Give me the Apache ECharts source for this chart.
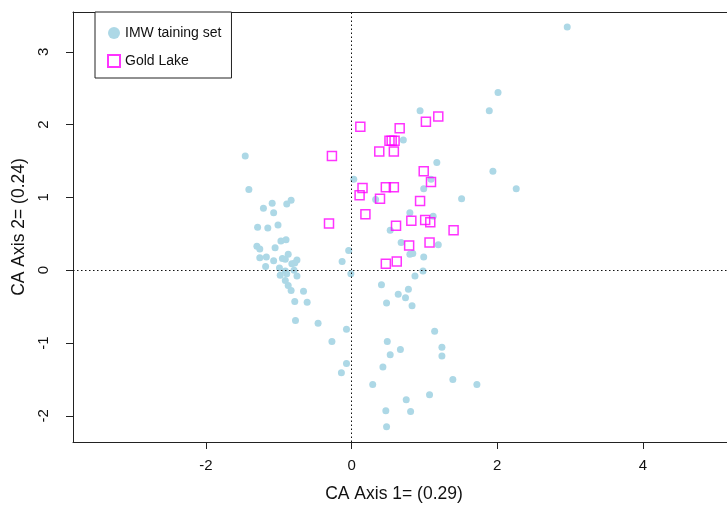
<!DOCTYPE html>
<html>
<head>
<meta charset="utf-8">
<script src="https://cdn.jsdelivr.net/npm/echarts@6/dist/echarts.min.js"></script>
<style>
  html, body { margin: 0; padding: 0; background: #fff; }
  #chart { width: 727px; height: 506px; }
</style>
</head>
<body>
<div id="chart"></div>
<script>
// CA site scores: IMW training set
const imwX = [2.96, 2.01, 1.89, 1.94, 2.26, 1.51, 0.94, 0.71, 1.17, 0.03, 1.09, 0.99, 0.33,
  0.80, 1.12, 0.53, 0.68, 1.19, 0.80, 0.84, 0.99, -0.04, -0.13, -0.01, 0.87, 0.98,
  0.41, 0.64, 0.78, 0.74, 0.48, 0.83, -0.07, -0.27, 1.14, 0.49, 0.67, 0.53, 1.24, 1.24,
  -0.07, -0.14, 0.43, 0.29, 1.39, 1.72, 1.07, 0.75, 0.47, 0.81, 0.48, -0.46,
  -1.46, -1.41, -1.09, -0.83, -0.89, -1.21, -1.07, -1.29, -1.15, -1.01, -0.97, -0.90,
  -1.30, -1.26, -1.05, -1.26, -1.17, -1.07, -0.95, -0.87, -0.91, -0.82, -0.75, -0.78,
  -1.18, -0.99, -0.91, -0.79, -0.98, -0.89, -0.75, -0.91, -0.87, -0.83, -0.66, -0.78,
  -0.61, -0.77];
const imwY = [3.34, 2.44, 2.19, 1.36, 1.12, 0.98, 2.19, 1.79, 1.48, 1.25, 1.25, 1.12, 0.97,
  0.79, 0.74, 0.55, 0.38, 0.35, 0.22, 0.23, 0.18, 0.27, 0.12, -0.05, -0.08, -0.01,
  -0.20, -0.33, -0.26, -0.38, -0.45, -0.49, -0.81, -0.98, -0.84, -0.98, -1.09, -1.16, -1.06, -1.18,
  -1.28, -1.41, -1.33, -1.57, -1.50, -1.57, -1.71, -1.78, -1.93, -1.94, -2.15, -0.73,
  1.57, 1.11, 0.92, 0.96, 0.91, 0.85, 0.79, 0.59, 0.58, 0.62, 0.40, 0.42,
  0.33, 0.29, 0.31, 0.17, 0.18, 0.13, 0.16, 0.22, 0.15, 0.09, 0.14, 0.10,
  0.05, 0.03, -0.01, 0.00, -0.07, -0.05, -0.08, -0.14, -0.21, -0.28, -0.29, -0.43,
  -0.44, -0.69];

// Gold Lake samples projected passively
const goldX = [0.12, 0.66, 1.19, 1.02, -0.27, 0.52, 0.55, 0.59, 0.38, 0.58, 0.99, 1.09,
  0.15, 0.47, 0.58, 0.11, 0.39, 0.94, 0.19, -0.31, 0.61, 0.82, 1.01, 1.08, 1.40,
  0.79, 1.07, 0.47, 0.62];
const goldY = [1.97, 1.95, 2.11, 2.04, 1.57, 1.78, 1.78, 1.78, 1.63, 1.63, 1.36, 1.21,
  1.13, 1.14, 1.14, 1.03, 0.98, 0.95, 0.77, 0.64, 0.61, 0.68, 0.69, 0.66, 0.55,
  0.34, 0.38, 0.09, 0.12];

const xTicks = [-2, 0, 2, 4];
const yTicks = [-2, -1, 0, 1, 2, 3];

const seriesNames = ['IMW taining set', 'Gold Lake'];
const xTitle = 'CA Axis 1= (0.29)';
const yTitle = 'CA Axis 2= (0.24)';

const zip = (a, b) => a.map((v, i) => [v, b[i]]);
const FONT = '"Liberation Sans", Arial, Helvetica, sans-serif';
const INK = '#222';

const chart = echarts.init(document.getElementById('chart'), null, { renderer: 'canvas' });

const axisLine = { show: true, onZero: false, lineStyle: { color: INK, width: 1 } };
const tickStyle = { show: true, inside: false, length: 7, lineStyle: { color: INK, width: 1 } };
const labelStyle = { color: '#111', fontSize: 15, fontFamily: FONT, showMinLabel: true, showMaxLabel: true };
const xRange = { min: -3.824, max: 5.153 };

chart.setOption({
  animation: false,
  backgroundColor: '#fff',
  grid: { left: 73, top: 12, right: 0, bottom: 64, show: false },
  xAxis: [
    {
      type: 'value', position: 'bottom', min: xRange.min, max: xRange.max,
      axisLine: axisLine, splitLine: { show: false },
      axisTick: Object.assign({}, tickStyle, { customValues: xTicks }),
      axisLabel: Object.assign({}, labelStyle, { customValues: xTicks, margin: 16 })
    },
    {
      // top edge of the plot box
      type: 'value', position: 'top', min: xRange.min, max: xRange.max,
      axisLine: axisLine, splitLine: { show: false },
      axisTick: { show: false }, axisLabel: { show: false }
    }
  ],
  yAxis: {
    type: 'value', min: -2.36, max: 3.547,
    axisLine: axisLine, splitLine: { show: false },
    name: yTitle, nameLocation: 'middle', nameGap: 41, nameRotate: 90,
    nameTextStyle: { color: '#111', fontSize: 17.5, fontFamily: FONT },
    axisTick: Object.assign({}, tickStyle, { customValues: yTicks }),
    axisLabel: Object.assign({}, labelStyle, { customValues: yTicks, rotate: 90, margin: 22 })
  },
  legend: {
    orient: 'vertical', left: 95, top: 12,
    padding: [13, 10, 9, 12], itemGap: 12,
    borderColor: INK, borderWidth: 1, backgroundColor: '#fff',
    itemWidth: 12, itemHeight: 12,
    textStyle: { color: '#111', fontSize: 14, fontFamily: FONT, lineHeight: 16 },
    data: [
      { name: seriesNames[0], icon: 'circle' },
      { name: seriesNames[1], icon: 'rect' }
    ],
    selectedMode: false
  },
  graphic: [{
    type: 'text', x: 394, y: 494,
    style: { text: xTitle, fill: '#111', font: '17.5px ' + FONT, align: 'center', verticalAlign: 'middle' }
  }],
  series: [
    {
      name: seriesNames[0], type: 'scatter', symbol: 'circle', symbolSize: 7,
      itemStyle: { color: '#ADD8E6', opacity: 1 },
      data: zip(imwX, imwY), z: 2,
      markLine: {
        silent: true, symbol: 'none', animation: false,
        label: { show: false },
        lineStyle: { color: '#111', width: 1, type: [1.5, 2.5] },
        data: [{ xAxis: 0 }, { yAxis: 0 }]
      }
    },
    {
      name: seriesNames[1], type: 'scatter', symbol: 'rect', symbolSize: 9,
      itemStyle: { color: 'transparent', borderColor: '#FF00FF', borderWidth: 1.5 },
      data: zip(goldX, goldY), z: 3
    }
  ]
});
</script>
</body>
</html>
